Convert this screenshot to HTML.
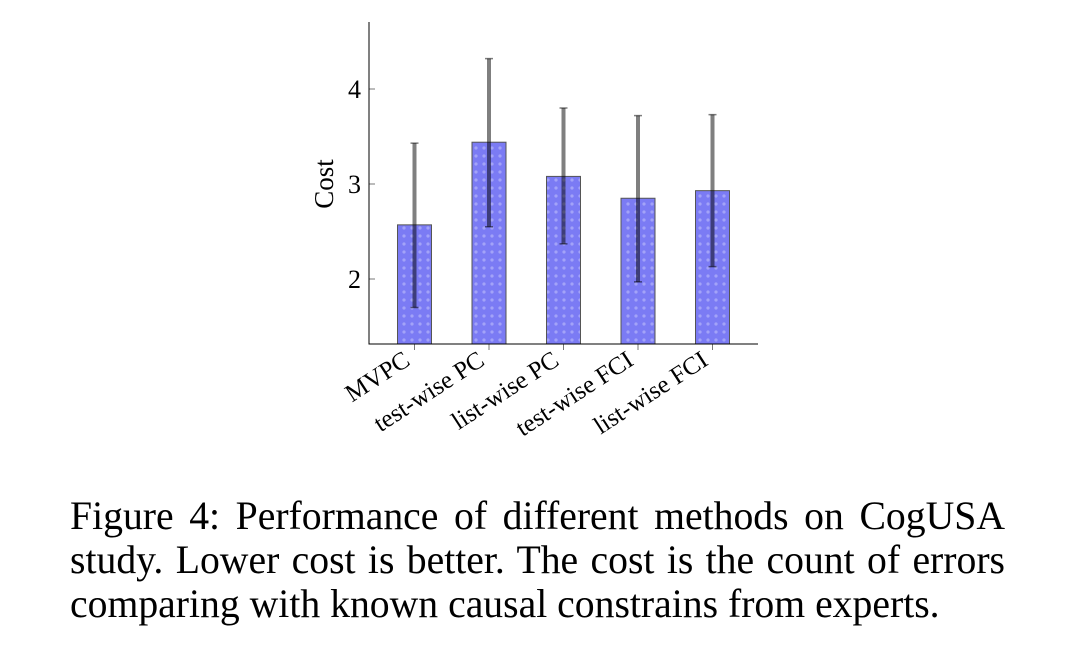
<!DOCTYPE html>
<html><head><meta charset="utf-8"><style>
body{margin:0;background:#fff;width:1070px;height:664px;overflow:hidden;font-family:"Liberation Serif",serif}
.cap{position:absolute;left:70px;top:494px;width:935px;font-size:39.7px;line-height:44px;color:#000;white-space:nowrap}
.j{text-align:justify;text-align-last:justify}
</style></head><body>
<svg width="1070" height="480" style="position:absolute;left:0;top:0" font-family="Liberation Serif, serif">
<defs><pattern id="dots" width="8" height="8" patternUnits="userSpaceOnUse"><rect width="8" height="8" fill="#7b7bf4"/><circle cx="4" cy="4" r="1.6" fill="#a3a3f8"/></pattern></defs>
<g id="g"></g>
</svg>
<div class="cap"><div class="j">Figure 4: Performance of different methods on CogUSA</div><div class="j">study. Lower cost is better. The cost is the count of errors</div><div>comparing with known causal constrains from experts.</div></div>
<script>
const categories=["MVPC","test-wise PC","list-wise PC","test-wise FCI","list-wise FCI"];
const means=[2.57,3.44,3.08,2.85,2.93];
const errHi=[3.43,4.32,3.80,3.72,3.73];
const errLo=[1.70,2.55,2.37,1.97,2.13];
const yTicks=[2,3,4];
const ns="http://www.w3.org/2000/svg",g=document.getElementById('g');
const x0=369,x1=758,yTop=22,yBot=344;
const y=v=>279-(v-2)*95;
const xc=i=>414.5+i*74.5;
function mk(t,a){const e=document.createElementNS(ns,t);for(const k in a)e.setAttribute(k,a[k]);g.appendChild(e);return e;}
categories.forEach((c,i)=>{
 const b=mk('rect',{x:xc(i)-17,y:y(means[i]),width:34,height:yBot-y(means[i]),fill:'url(#dots)',stroke:'#555','stroke-width':1});
 
 
 const e=mk('line',{x1:xc(i),x2:xc(i),y1:y(errHi[i]),y2:y(errLo[i]),stroke:'rgba(0,0,0,0.5)','stroke-width':4});
 
 
 mk('line',{x1:xc(i)-4,x2:xc(i)+4,y1:y(errHi[i]),y2:y(errHi[i]),stroke:'rgba(0,0,0,0.5)','stroke-width':1.5});
 mk('line',{x1:xc(i)-4,x2:xc(i)+4,y1:y(errLo[i]),y2:y(errLo[i]),stroke:'rgba(0,0,0,0.5)','stroke-width':1.5});
 mk('line',{x1:xc(i),x2:xc(i),y1:yBot,y2:yBot+6,stroke:'#777','stroke-width':1});
 const t=mk('text',{x:xc(i)-3,y:yBot+20,'font-size':25,'text-anchor':'end',transform:`rotate(-33 ${xc(i)-3} ${yBot+20})`});
 t.textContent=c;
 
 
});
yTicks.forEach(v=>{
 mk('line',{x1:x0,x2:x0+6,y1:y(v),y2:y(v),stroke:'#777','stroke-width':1});
 const t=mk('text',{x:x0-8,y:y(v)+9,'font-size':26,'text-anchor':'end'});
 t.textContent=v;
 
 
});
const ax=mk('path',{d:`M${x0} ${yTop}V${yBot}H${x1}`,fill:'none',stroke:'#000','stroke-width':1});


const yt=mk('text',{x:333,y:184,'font-size':27,'text-anchor':'middle',transform:'rotate(-90 333 184)'});
yt.textContent='Cost';


</script>
</body></html>
